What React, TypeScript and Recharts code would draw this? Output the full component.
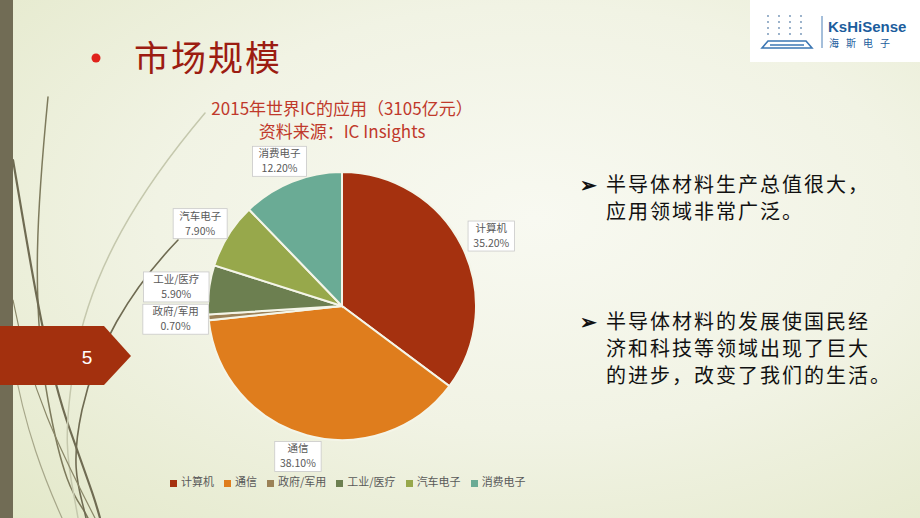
import React from "react";
import { PieChart, Pie, Cell, Legend } from "recharts";

document.body.style.margin = "0";

// IC Insights 2015 application split (%)
const categories = ["计算机", "通信", "政府/军用", "工业/医疗", "汽车电子", "消费电子"];
const shares = [35.2, 38.1, 0.7, 5.9, 7.9, 12.2];
const sliceColors = ["#a5310f", "#df7d1d", "#9b8157", "#6c7f50", "#97a84b", "#6aab95"];

const bulletLines = [
  ["半导体材料生产总值很大，", "应用领域非常广泛。"],
  ["半导体材料的发展使国民经", "济和科技等领域出现了巨大", "的进步，改变了我们的生活。"],
];

const pieData = categories.map((name, i) => ({ name, value: shares[i] }));

const RADIAN = Math.PI / 180;
const CJK = '"Noto Sans CJK SC", "Noto Sans", sans-serif';

// data labels sit on a slightly flattened ring outside the pie
const renderLabel = (props: any) => {
  const { cx, cy, midAngle, outerRadius, name, value } = props;
  const x = cx + (outerRadius + 33) * Math.cos(-midAngle * RADIAN);
  const y = cy + (outerRadius + 22) * Math.sin(-midAngle * RADIAN);
  const pct = `${Number(value).toFixed(2)}%`;
  const w = Math.max(name.length * 11.5, pct.length * 6.4) + 8;
  const h = 30;
  return (
    <g>
      <rect x={x - w / 2} y={y - h / 2} width={w} height={h} fill="#ffffff" stroke="#c9c9c9" strokeWidth={0.8} />
      <text x={x} y={y - 4} textAnchor="middle" fontSize={10.5} fill="#595959" fontFamily={CJK}>
        {name}
      </text>
      <text x={x} y={y + 11} textAnchor="middle" fontSize={10.5} fill="#595959" fontFamily={CJK}>
        {pct}
      </text>
    </g>
  );
};

const Decoration = () => (
  <svg width={920} height={518} style={{ position: "absolute", left: 0, top: 0 }}>
    <g fill="none" strokeLinecap="round">
      <path d="M48 97 C 38 200, 30 300, 48 400 S 80 500, 88 518" stroke="#7d7a5c" strokeWidth={1.5} />
      <path d="M13 160 C 30 260, 45 360, 70 430 S 95 500, 100 518" stroke="#6f6b52" strokeWidth={2.2} />
      <path d="M205 113 C 140 190, 90 270, 75 360 S 70 470, 78 518" stroke="#c5c8ad" strokeWidth={1.5} />
      <path d="M178 240 C 130 290, 95 350, 82 410 S 80 490, 86 518" stroke="#6f6b52" strokeWidth={1.6} />
      <path d="M13 300 C 30 390, 60 450, 95 518" stroke="#8a8768" strokeWidth={1.2} />
      <path d="M13 360 C 25 430, 45 480, 62 518" stroke="#a7a78a" strokeWidth={1.2} />
    </g>
    <rect x={0} y={0} width={13} height={518} fill="#716c55" />
    <path d="M0 326 L104 326 L131 356 L104 385 L0 385 Z" fill="#a3300e" />
    <text x={87} y={364} textAnchor="middle" fontSize={19} fill="#ffffff" fontFamily="Arial, Liberation Sans, sans-serif">
      5
    </text>
    <circle cx={96} cy={58} r={4.5} fill="#e0221b" />
    <text x={134} y={71} fontSize={35} fill="#9c1c11" fontFamily={CJK} letterSpacing={2}>
      市场规模
    </text>
    {/* logo */}
    <rect x={750} y={0} width={170} height={62} fill="#ffffff" />
    <g fill="#6e8fb3">
      {[0, 1, 2, 3].map((c) =>
        [0, 1, 2, 3].map((r) => <circle key={`${c}-${r}`} cx={768 + c * 11} cy={16 + r * 6} r={0.9} />)
      )}
    </g>
    <path d="M762 48 L812 48 L806 41 L768 41 Z" fill="none" stroke="#3d77b3" strokeWidth={1.6} />
    <line x1={770} y1={45} x2={804} y2={45} stroke="#3d77b3" strokeWidth={1.4} />
    <line x1={822} y1={16} x2={822} y2={48} stroke="#4a7fb6" strokeWidth={1} />
    <text x={828} y={32} fontSize={15} fontWeight={700} fill="#1c5d9d" fontFamily="Arial, Liberation Sans, sans-serif">
      KsHiSense
    </text>
    <text x={829} y={47} fontSize={10} fill="#1c5d9d" fontFamily={CJK} letterSpacing={7}>
      海斯电子
    </text>
  </svg>
);

export default function App() {
  return (
    <div
      style={{
        position: "relative",
        width: 920,
        height: 518,
        overflow: "hidden",
        background:
          "radial-gradient(ellipse at 58% 42%, #f8f9f1 0%, #f1f3e4 50%, #e3e8c9 100%)",
      }}
    >
      <Decoration />
      <div
        style={{
          position: "absolute",
          left: 137,
          width: 410,
          top: 96,
          textAlign: "center",
          color: "#c0392b",
          fontFamily: CJK,
          fontSize: 17,
          lineHeight: "23px",
        }}
      >
        <div>2015年世界IC的应用（3105亿元）</div>
        <div>资料来源：IC Insights</div>
      </div>
      <div style={{ position: "absolute", left: 0, top: 0 }}>
        <PieChart width={920} height={518} margin={{ top: 0, right: 0, bottom: 0, left: 0 }}>
          <Pie
            data={pieData}
            dataKey="value"
            nameKey="name"
            cx={342}
            cy={306}
            outerRadius={134}
            startAngle={90}
            endAngle={-270}
            stroke="#f4f5e8"
            strokeWidth={2}
            label={renderLabel}
            labelLine={false}
            isAnimationActive={false}
          >
            {pieData.map((d, i) => (
              <Cell key={d.name} fill={sliceColors[i]} />
            ))}
          </Pie>
          <Legend
            layout="horizontal"
            align="left"
            verticalAlign="bottom"
            iconType="square"
            iconSize={7}
            itemSorter={(item: any) => categories.indexOf(item.value)}
            wrapperStyle={{
              left: 170,
              bottom: 29,
              width: 370,
              fontSize: 11,
              fontFamily: CJK,
              color: "#595959",
            }}
            formatter={(v: string) => <span style={{ color: "#595959" }}>{v}</span>}
          />
        </PieChart>
      </div>
      <div
        style={{
          position: "absolute",
          left: 580,
          top: 170,
          width: 340,
          fontFamily: CJK,
          fontSize: 20,
          color: "#111111",
          lineHeight: "27px",
        }}
      >
        {bulletLines.map((lines, bi) => (
          <div key={bi} style={{ position: "relative", paddingLeft: 26, marginBottom: bi === 0 ? 83 : 0 }}>
            <span style={{ position: "absolute", left: 0, top: 0, fontSize: 20, fontWeight: 700 }}>➢</span>
            {lines.map((l) => (
              <div key={l} style={{ letterSpacing: 2 }}>
                {l}
              </div>
            ))}
          </div>
        ))}
      </div>
    </div>
  );
}
